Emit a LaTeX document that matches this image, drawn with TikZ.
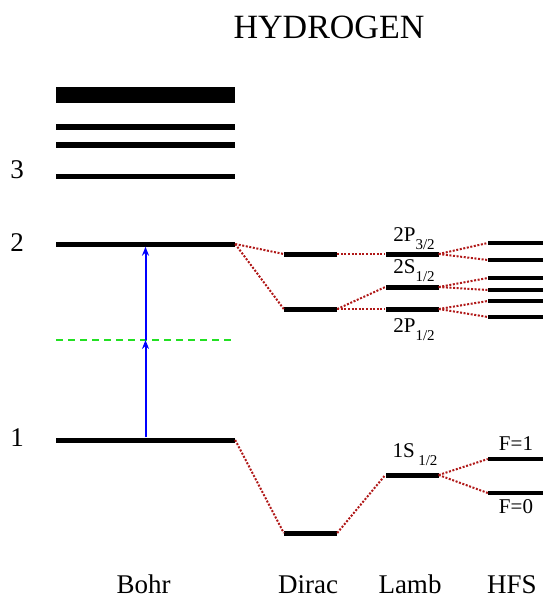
\documentclass[tikz,border=0pt]{standalone}
\usepackage{fontspec}
\setmainfont{Liberation Serif}
\usepackage{tikz}
\usetikzlibrary{positioning, arrows.meta}
\definecolor{dotred}{HTML}{B01818}
\definecolor{vgreen}{HTML}{22E022}
\tikzset{level/.style={
        rectangle,
        fill=black,
        inner sep=0pt,
        minimum height=5pt
}}
\tikzset{bohr/.style={level, minimum width=179pt}}
\tikzset{fine/.style={level, minimum width=53pt}}
\tikzset{hfs/.style={level, minimum width=55pt, minimum height=4pt}}
\tikzset{split/.style={draw=dotred, line width=2pt, dash pattern=on 2pt off 1.6pt}}
\tikzset{photon/.style={draw=blue, line width=2pt, -{Stealth[length=9pt,width=7pt]}}}
\tikzset{virtual/.style={draw=vgreen, line width=2pt, dash pattern=on 7pt off 5pt}}
\tikzset{biglab/.style={font=\fontsize{27}{30}\selectfont, anchor=base, inner sep=0pt}}
\tikzset{statelab/.style={font=\fontsize{21}{23}\selectfont, anchor=base, inner sep=0pt}}
\newcommand{\levsub}[1]{\raisebox{-8pt}{\fontsize{15}{16}\selectfont #1}}

\begin{document}
\begin{tikzpicture}[x=1pt,y=-1pt]
\useasboundingbox (0,0) rectangle (543,598);
\node[biglab, font=\fontsize{34}{38}\selectfont] (title) at (329,38) {HYDROGEN};

% Bohr
\node[bohr, minimum height=16pt] (ncont) at (145.5,95) {};
\node[bohr, minimum height=6pt] (n5) at (145.5,127) {};
\node[bohr, minimum height=6pt] (n4) at (145.5,145) {};
\node[bohr] (n3) at (145.5,176) {};
\node[bohr] (n2) at (145.5,244) {};
\node[bohr] (n1) at (145.5,440) {};
\node[biglab] (lab3) at (17,178) {3};
\node[biglab] (lab2) at (17,251) {2};
\node[biglab] (lab1) at (17,446) {1};

% two-photon excitation
\coordinate (vl) at (56,340);
\coordinate (vr) at (235,340);
\coordinate (vm) at (145.5,340);
\draw[virtual] (vl) -- (vr);
\draw[photon] (n1) -- (vm);
\draw[photon] (vm) -- (n2);

% Dirac
\node[fine] (d2p3) at (310.5,254) {};
\node[fine] (d2) at (310.5,309) {};
\node[fine] (d1) at (310.5,533) {};

% Lamb
\node[fine] (l2p3) at (412,254) {};
\node[fine] (l2s) at (412,287) {};
\node[fine] (l2p1) at (412,309) {};
\node[fine] (l1s) at (412,475) {};
\node[statelab] (t2p3) at (414,241) {2P\levsub{3/2}};
\node[statelab] (t2s) at (414,273) {2S\levsub{1/2}};
\node[statelab] (t2p1) at (414,332) {2P\levsub{1/2}};
\node[statelab] (t1s) at (415,457) {1S\,\levsub{1/2}};

% HFS
\node[hfs] (h1) at (515.5,243) {};
\node[hfs] (h2) at (515.5,260) {};
\node[hfs] (h3) at (515.5,278) {};
\node[hfs] (h4) at (515.5,290) {};
\node[hfs] (h5) at (515.5,301) {};
\node[hfs] (h6) at (515.5,317) {};
\node[hfs] (hf1) at (515.5,459) {};
\node[hfs] (hf0) at (515.5,493) {};
\node[statelab] (tf1) at (516,450) {F=1};
\node[statelab] (tf0) at (516,513) {F=0};

\draw[split] (n2.east) -- (d2p3.west);
\draw[split] (n2.east) -- (d2.west);
\draw[split] (d2p3.east) -- (l2p3.west);
\draw[split] (d2.east) -- (l2s.west);
\draw[split] (d2.east) -- (l2p1.west);
\draw[split] (l2p3.east) -- (h1.west);
\draw[split] (l2p3.east) -- (h2.west);
\draw[split] (l2s.east) -- (h3.west);
\draw[split] (l2s.east) -- (h4.west);
\draw[split] (l2p1.east) -- (h5.west);
\draw[split] (l2p1.east) -- (h6.west);
\draw[split] (n1.east) -- (d1.west);
\draw[split] (d1.east) -- (l1s.west);
\draw[split] (l1s.east) -- (hf1.west);
\draw[split] (l1s.east) -- (hf0.west);

\node[biglab] (tbohr) at (143.5,593) {Bohr};
\node[biglab] (tdirac) at (308,593) {Dirac};
\node[biglab] (tlamb) at (410,593) {Lamb};
\node[biglab] (thfs) at (512,593) {HFS};
\end{tikzpicture}
\end{document}
